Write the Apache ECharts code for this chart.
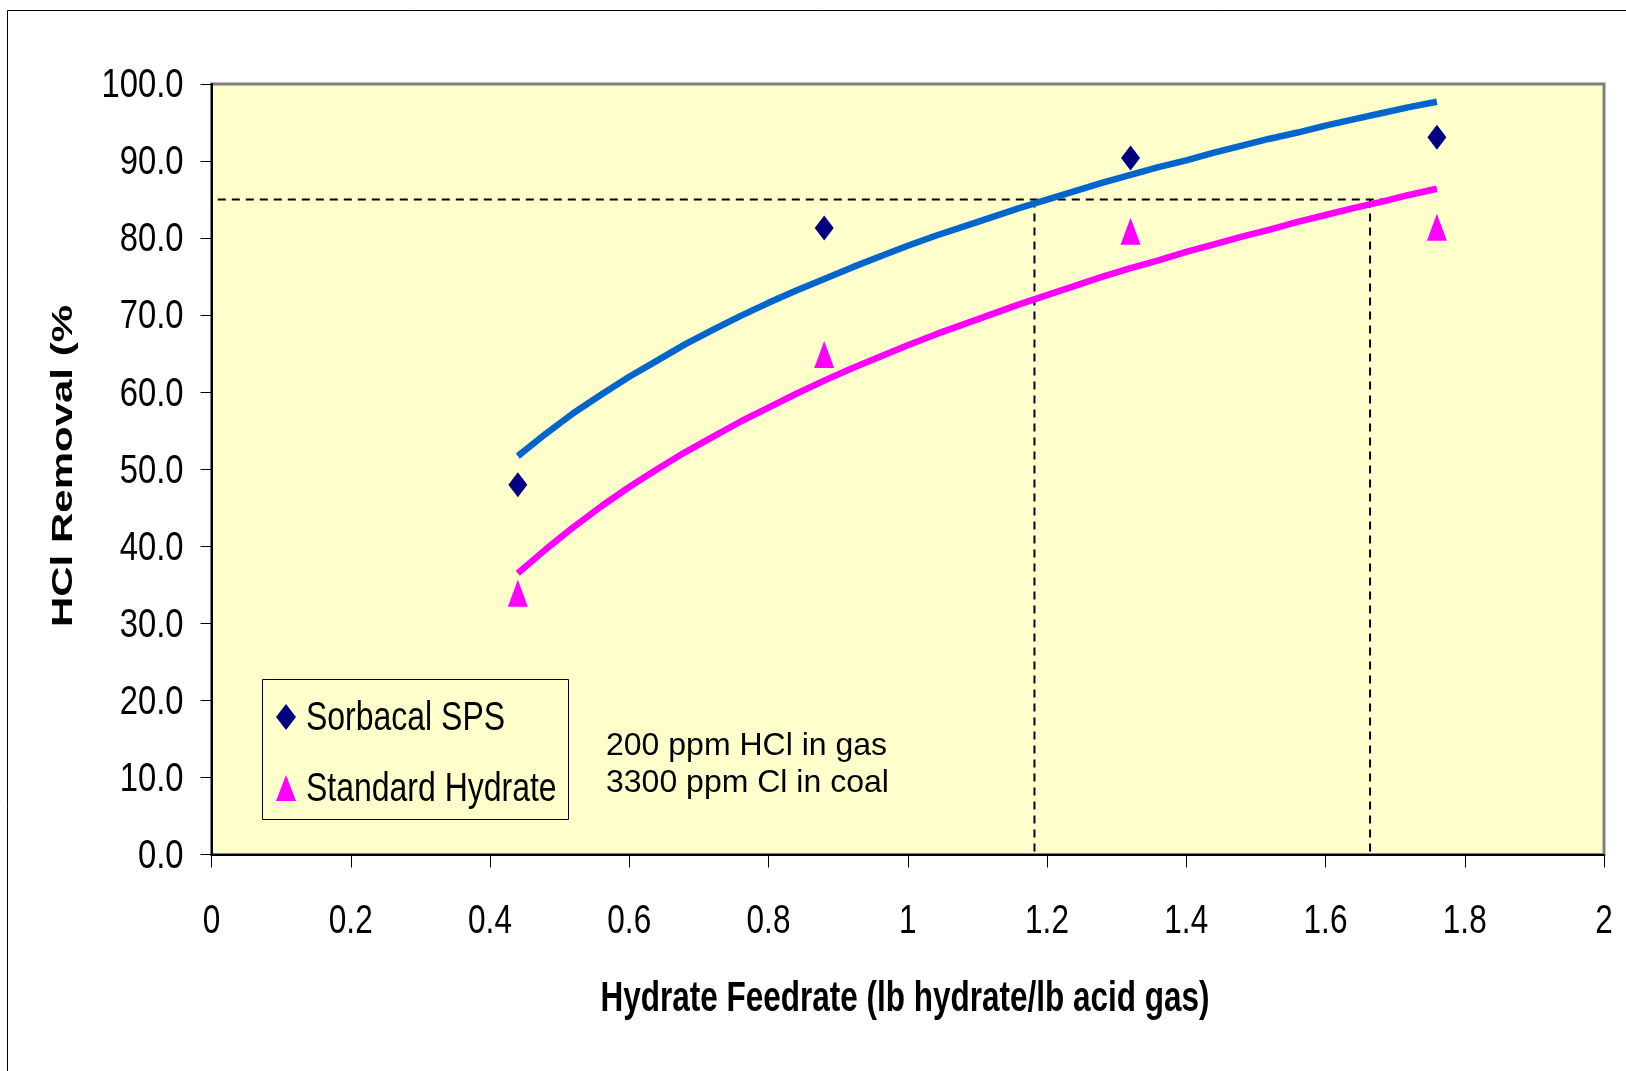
<!DOCTYPE html>
<html>
<head>
<meta charset="utf-8">
<script src="https://cdn.jsdelivr.net/npm/echarts@6/dist/echarts.min.js"></script>
<style>
html,body{margin:0;padding:0;background:#fff;}
#chart{width:1626px;height:1071px;}
</style>
</head>
<body>
<div id="chart"></div>
<script>
// ---- data ----
const measuredX = [0.44, 0.88, 1.32, 1.76];
const sorbacalY = [48.0, 81.3, 90.4, 93.1];
const standardY = [33.9, 64.9, 80.9, 81.4];

const curveX = [0.44,0.48,0.52,0.56,0.60,0.64,0.68,0.72,0.76,0.80,0.84,0.88,0.92,0.96,1.00,1.04,1.08,1.12,1.16,1.20,1.24,1.28,1.32,1.36,1.40,1.44,1.48,1.52,1.56,1.60,1.64,1.68,1.72,1.76];
const sorbacalFit = [51.7,54.6,57.3,59.7,62.0,64.1,66.2,68.1,69.9,71.6,73.2,74.7,76.2,77.6,79.0,80.3,81.5,82.7,83.9,85.0,86.1,87.2,88.2,89.2,90.1,91.1,92.0,92.9,93.7,94.6,95.4,96.2,97.0,97.7];
const standardFit = [36.5,39.6,42.5,45.2,47.7,50.0,52.2,54.2,56.2,58.0,59.8,61.5,63.1,64.6,66.1,67.5,68.8,70.1,71.4,72.6,73.8,75.0,76.1,77.1,78.2,79.2,80.2,81.1,82.1,83.0,83.9,84.7,85.6,86.4];

const targetRemoval = 85;
const refHX = [0.009, 1.686];
const crossX = [1.182, 1.664];

const xTickValues = [0, 0.2, 0.4, 0.6, 0.8, 1, 1.2, 1.4, 1.6, 1.8, 2];
const xTickLabels = ['0', '0.2', '0.4', '0.6', '0.8', '1', '1.2', '1.4', '1.6', '1.8', '2'];
const yTickValues = [0, 10, 20, 30, 40, 50, 60, 70, 80, 90, 100];
const yTickLabels = ['0.0', '10.0', '20.0', '30.0', '40.0', '50.0', '60.0', '70.0', '80.0', '90.0', '100.0'];

const seriesNames = ['Sorbacal SPS', 'Standard Hydrate'];
const noteLines = ['200 ppm HCl in gas', '3300 ppm Cl in coal'];
const xTitle = 'Hydrate Feedrate (lb hydrate/lb acid gas)';
const yTitle = 'HCl Removal (%';

// ---- chart ----
const FONT = "'Liberation Sans', Arial, sans-serif";
const zip = (xs, ys) => xs.map((x, i) => [x, ys[i]]);

const chart = echarts.init(document.getElementById('chart'), null, {renderer: 'canvas'});
const dashStyle = {color: '#000', width: 2, type: [8, 6]};

const option = {
  backgroundColor: '#fff',
  animation: false,
  grid: {
    left: 211.5, top: 84, right: 22, bottom: 216.5,
    show: true, backgroundColor: '#FFFFCC', borderColor: '#808080', borderWidth: 3
  },
  xAxis: {
    type: 'value', min: 0, max: 2, interval: 0.2,
    axisLine: {show: true, onZero: false, lineStyle: {color: '#000', width: 2}},
    axisTick: {show: true, inside: false, length: 13, lineStyle: {color: '#000', width: 1}},
    axisLabel: {show: false},
    splitLine: {show: false}
  },
  yAxis: {
    type: 'value', min: 0, max: 100, interval: 10,
    axisLine: {show: true, onZero: false, lineStyle: {color: '#000', width: 2}},
    axisTick: {show: true, inside: false, length: 11, lineStyle: {color: '#000', width: 1}},
    axisLabel: {show: false},
    splitLine: {show: false}
  },
  series: [
    {type: 'line', name: 'refH', data: zip(refHX, [targetRemoval, targetRemoval]), symbol: 'none',
     lineStyle: dashStyle, silent: true, z: 1},
    {type: 'line', name: 'refV1', data: [[crossX[0], targetRemoval], [crossX[0], 0]], symbol: 'none',
     lineStyle: dashStyle, silent: true, z: 1},
    {type: 'line', name: 'refV2', data: [[crossX[1], targetRemoval], [crossX[1], 0]], symbol: 'none',
     lineStyle: dashStyle, silent: true, z: 1},
    {type: 'line', name: 'fitS', data: zip(curveX, sorbacalFit), symbol: 'none',
     lineStyle: {color: '#0066CC', width: 6.5}, z: 2},
    {type: 'line', name: 'fitH', data: zip(curveX, standardFit), symbol: 'none',
     lineStyle: {color: '#FF00FF', width: 6.5}, z: 2},
    {type: 'scatter', name: seriesNames[0], data: zip(measuredX, sorbacalY),
     symbol: 'diamond', symbolSize: [19, 25], itemStyle: {color: '#000080', opacity: 1}, z: 3},
    {type: 'scatter', name: seriesNames[1], data: zip(measuredX, standardY),
     symbol: 'triangle', symbolSize: [20, 27], itemStyle: {color: '#FF00FF', opacity: 1}, z: 3}
  ]
};
chart.setOption(option);

// ---- texts (tick labels placed through the library's own axis scales) ----
const graphics = [
  {type: 'rect', silent: true, shape: {x: 7.5, y: 10.5, width: 3000, height: 3000},
   style: {fill: 'none', stroke: '#000', lineWidth: 1}, z: -10}
];
xTickValues.forEach((v, i) => {
  const px = chart.convertToPixel({xAxisIndex: 0}, v);
  const py = chart.convertToPixel({yAxisIndex: 0}, 0);
  graphics.push({type: 'text', x: px, y: py + 67, scaleX: 0.77,
    style: {text: xTickLabels[i], font: '41px ' + FONT, fill: '#000',
      textAlign: 'center', textVerticalAlign: 'middle'}});
});
yTickValues.forEach((v, i) => {
  const px = chart.convertToPixel({xAxisIndex: 0}, 0);
  const py = chart.convertToPixel({yAxisIndex: 0}, v);
  graphics.push({type: 'text', x: px - 28, y: py + 2, scaleX: 0.8,
    style: {text: yTickLabels[i], font: '41px ' + FONT, fill: '#000',
      textAlign: 'right', textVerticalAlign: 'middle'}});
});
// axis titles
graphics.push({type: 'text', x: 905, y: 999, scaleX: 0.75,
  style: {text: xTitle, font: 'bold 42px ' + FONT, fill: '#000',
    textAlign: 'center', textVerticalAlign: 'middle'}});
graphics.push({type: 'text', x: 64, y: 466, rotation: Math.PI / 2, scaleX: 1.4,
  style: {text: yTitle, font: 'bold 30px ' + FONT, fill: '#000',
    textAlign: 'center', textVerticalAlign: 'middle'}});
// legend
graphics.push({type: 'rect', shape: {x: 262.5, y: 679.5, width: 306, height: 140},
  style: {fill: '#FFFFCC', stroke: '#000', lineWidth: 1}, z: 5});
graphics.push({type: 'polygon', shape: {points: [[286, 704], [296, 717], [286, 730], [276, 717]]},
  style: {fill: '#000080'}, z: 6});
graphics.push({type: 'polygon', shape: {points: [[286, 775], [296, 801], [276, 801]]},
  style: {fill: '#FF00FF'}, z: 6});
graphics.push({type: 'text', x: 306, y: 719, scaleX: 0.78, z: 6,
  style: {text: seriesNames[0], font: '41px ' + FONT, fill: '#000',
    textAlign: 'left', textVerticalAlign: 'middle'}});
graphics.push({type: 'text', x: 306, y: 790, scaleX: 0.78, z: 6,
  style: {text: seriesNames[1], font: '41px ' + FONT, fill: '#000',
    textAlign: 'left', textVerticalAlign: 'middle'}});
// note
graphics.push({type: 'text', x: 606, y: 765, z: 6,
  style: {text: noteLines.join('\n'), font: '32px ' + FONT,
    lineHeight: 37, fill: '#000', textAlign: 'left', textVerticalAlign: 'middle'}});

chart.setOption({graphic: graphics});
</script>
</body>
</html>
